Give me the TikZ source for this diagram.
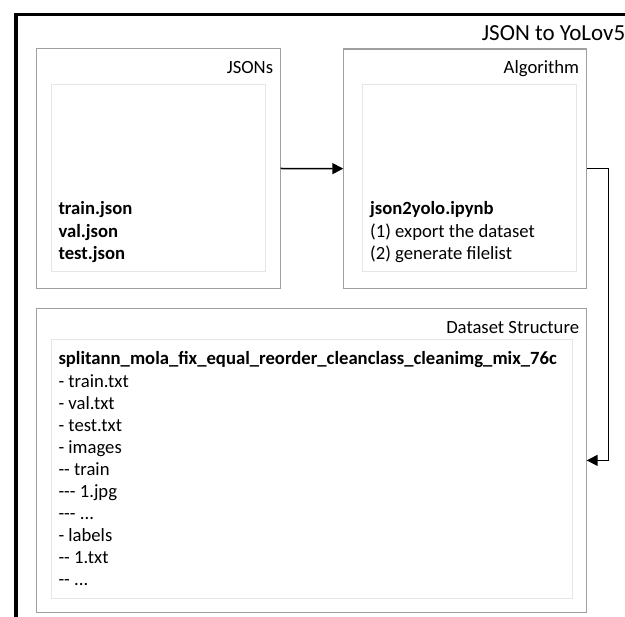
\documentclass[tikz,border=0pt]{standalone}
\usepackage{fontspec}
\setmainfont{Carlito}
\usetikzlibrary{arrows.meta}
\definecolor{boxgray}{HTML}{A0A0A0}
\definecolor{innergray}{HTML}{E6E6E6}
\begin{document}
\begin{tikzpicture}[x=1pt,y=-1pt,
  outerbox/.style={draw=boxgray, line width=1.3pt, anchor=north west, inner sep=0pt, outer sep=0pt},
  innerbox/.style={draw=innergray, line width=1pt, anchor=north west, inner sep=0pt, outer sep=0pt},
  lbl/.style={anchor=base east, inner sep=0pt, font=\fontsize{18.67}{22.1}\selectfont},
  body/.style={anchor=base west, inner sep=0pt, font=\fontsize{18.67}{22.1}\selectfont},
  conn/.style={draw=black, line width=1.5pt, -{Triangle[length=11pt,width=11pt]}}
]
\useasboundingbox (0,0) rectangle (625,617);
\begin{scope}
\clip (0,0) rectangle (625,617);
% outer frame
\draw[line width=3.5pt, black] (16,14.7) rectangle (700,700);
\node[anchor=base west, inner sep=0pt, font=\fontsize{23}{27}\selectfont] (title) at (481.7,41) {JSON to YoLov5};

% JSONs
\node[outerbox, minimum width=244pt, minimum height=239.6pt] (jsons) at (36.7,48.7) {};
\node[innerbox, minimum width=213.3pt, minimum height=187.4pt] (jsonsin) at (51.7,84.3) {};
\node[lbl] (jsonslbl) at (273.3,73.3) {JSONs};
\node[body] (jsonstxt) at (58.3,215) {\vtop{\baselineskip=22.1pt
  \hbox{\textbf{train.json}}\hbox{\textbf{val.json}}\hbox{\textbf{test.json}}}};

% Algorithm
\node[outerbox, minimum width=243.4pt, minimum height=239.3pt] (alg) at (343.3,49) {};
\node[innerbox, minimum width=213.7pt, minimum height=187.4pt] (algin) at (362.3,84.3) {};
\node[lbl] (alglbl) at (579.3,73.3) {Algorithm};
\node[body] (algtxt) at (370,215) {\vtop{\baselineskip=22.1pt
  \hbox{\textbf{json2yolo.ipynb}}\hbox{(1) export the dataset}\hbox{(2) generate filelist}}};

% Dataset Structure
\node[outerbox, minimum width=550.3pt, minimum height=303.8pt] (ds) at (36.4,308.5) {};
\node[innerbox, minimum width=521pt, minimum height=259.7pt] (dsin) at (51.3,339.3) {};
\node[lbl] (dslbl) at (579.3,333.3) {Dataset Structure};
\node[body] (dstxt) at (58.3,365) {\vtop{\baselineskip=22.1pt
  \hbox{\textbf{splitann\_mola\_fix\_equal\_reorder\_cleanclass\_cleanimg\_mix\_76c}}
  \hbox{- train.txt}\hbox{- val.txt}\hbox{- test.txt}\hbox{- images}
  \hbox{-{}- train}\hbox{-{}-{}- 1.jpg}\hbox{-{}-{}- ...}\hbox{- labels}
  \hbox{-{}- 1.txt}\hbox{-{}- ...}}};

% connectors
\coordinate (turn) at (608.3,0);
\draw[conn] (jsons.east) -- (alg.west);
\draw[conn] (alg.east) -- (alg.east -| turn) |- (ds.east);
\end{scope}
\end{tikzpicture}
\end{document}
